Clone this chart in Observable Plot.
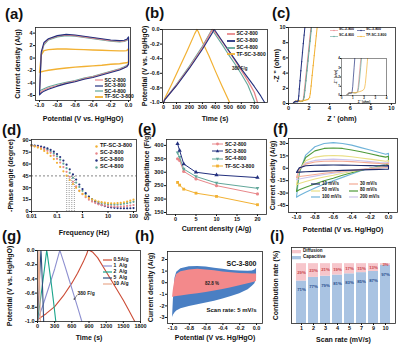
<!DOCTYPE html>
<html>
<head>
<meta charset="utf-8">
<script src="https://cdn.jsdelivr.net/npm/d3@7"></script>
<script src="https://cdn.jsdelivr.net/npm/@observablehq/plot@0.6"></script>
<style>
html,body{margin:0;padding:0;background:#fff;}
#fig{position:relative;width:400px;height:345px;overflow:hidden;background:#fff;font-family:"Liberation Sans",Arial,Helvetica,sans-serif;color:#111;}
.tag{position:absolute;font-weight:bold;font-size:15px;line-height:15px;}
.lg{position:absolute;font-weight:bold;white-space:nowrap;}
.lg svg{vertical-align:middle;overflow:visible;}
.lg span{vertical-align:middle;}
</style>
</head>
<body>
<div id="fig"></div>
<script>
// ---------- shared ----------
const sampleNames = ["SC-2-800", "SC-3-800", "SC-4-800", "TF-SC-3-800"];
const sampleColors = ["#e8878a", "#23307e", "#62a79a", "#f2b133"];
const potTicks = [-1.0, -0.8, -0.6, -0.4, -0.2, 0.0];
const gcdYTicks = [0.0, -0.2, -0.4, -0.6, -0.8, -1.0];

// ---------- (a) CV at 5 mV/s ----------
const aPot   = [-1.0, -0.98, -0.95, -0.9, -0.8, -0.7, -0.6, -0.5, -0.4, -0.3, -0.2, -0.1, -0.05, -0.02, 0.0];
const aUpSC2 = [-5.6, 0.8, 2.3, 3.0, 3.5, 3.7, 3.6, 3.4, 3.2, 3.0, 2.8, 2.7, 2.75, 2.9, 3.2];
const aLoSC2 = [-5.6, -5.4, -5.1, -4.8, -4.4, -4.0, -3.7, -3.3, -3.0, -2.6, -2.2, -1.8, -1.5, -1.3, -0.9];
const aUpSC3 = [-5.9, 1.0, 2.5, 3.1, 3.6, 3.8, 3.7, 3.5, 3.3, 3.1, 2.9, 2.8, 2.85, 3.0, 3.4];
const aLoSC3 = [-5.9, -5.6, -5.3, -5.0, -4.5, -4.1, -3.8, -3.4, -3.1, -2.7, -2.3, -1.9, -1.6, -1.4, -1.0];
const aUpSC4 = [-5.3, 0.6, 2.1, 2.9, 3.4, 3.6, 3.5, 3.3, 3.1, 2.9, 2.7, 2.6, 2.65, 2.8, 3.1];
const aLoSC4 = [-5.3, -5.1, -4.9, -4.6, -4.2, -3.9, -3.6, -3.2, -2.9, -2.5, -2.1, -1.7, -1.4, -1.2, -0.8];
const aUpTF  = [-2.3, 0.5, 1.2, 1.35, 1.45, 1.45, 1.4, 1.35, 1.3, 1.25, 1.2, 1.15, 1.15, 1.2, 1.5];
const aLoTF  = [-2.3, -2.2, -2.1, -1.95, -1.75, -1.6, -1.45, -1.35, -1.25, -1.15, -1.0, -0.9, -0.8, -0.75, -0.6];
const aYTicks = [4, 2, 0, -2, -4, -6];

// ---------- (b) GCD at 1 A/g ----------
const bT_SC2 = [0, 10, 100, 200, 300, 365, 378, 390, 450, 500, 550, 600, 650, 700, 725];
const bV_SC2 = [-1, -0.96, -0.76, -0.52, -0.25, -0.04, 0, -0.02, -0.16, -0.29, -0.42, -0.56, -0.70, -0.86, -1];
const bT_SC3 = [0, 10, 100, 200, 300, 375, 390, 400, 450, 500, 550, 600, 650, 700, 750, 780];
const bV_SC3 = [-1, -0.96, -0.77, -0.53, -0.27, -0.05, 0, -0.02, -0.15, -0.28, -0.41, -0.54, -0.66, -0.78, -0.91, -1];
const bT_SC4 = [0, 10, 100, 200, 300, 360, 372, 385, 450, 500, 550, 600, 650, 705];
const bV_SC4 = [-1, -0.96, -0.75, -0.5, -0.23, -0.04, 0, -0.03, -0.2, -0.34, -0.47, -0.61, -0.76, -1];
const bT_TF  = [0, 8, 60, 120, 180, 240, 258, 268, 300, 350, 400, 450, 510];
const bV_TF  = [-1, -0.95, -0.76, -0.53, -0.30, -0.06, 0, -0.03, -0.17, -0.36, -0.57, -0.77, -1];
const bXTicks = [0, 100, 200, 300, 400, 500, 600, 700];

// ---------- (c) Nyquist ----------
const cX_SC2 = [0.5, 0.6, 0.75, 0.9, 1.05, 1.2, 1.32, 1.42, 1.48, 1.55, 1.65, 1.75, 1.85, 1.95, 2.05, 2.15, 2.25];
const cY_SC2 = [0, 0.15, 0.28, 0.33, 0.32, 0.28, 0.3, 0.45, 0.9, 1.8, 3.1, 4.4, 5.7, 7.0, 8.3, 9.6, 10.9];
const cX_SC3 = [0.45, 0.5, 0.58, 0.66, 0.74, 0.82, 0.9, 0.95, 1.0, 1.05, 1.12, 1.2, 1.28, 1.36, 1.44, 1.52, 1.6, 1.65];
const cY_SC3 = [0, 0.12, 0.22, 0.28, 0.28, 0.24, 0.25, 0.45, 1.0, 1.9, 3.0, 4.3, 5.5, 6.7, 7.9, 9.0, 10.1, 10.8];
const cX_SC4 = [0.5, 0.6, 0.75, 0.9, 1.05, 1.2, 1.35, 1.45, 1.52, 1.6, 1.7, 1.8, 1.9, 2.0, 2.1, 2.2, 2.3];
const cY_SC4 = [0, 0.14, 0.26, 0.31, 0.3, 0.27, 0.29, 0.42, 0.85, 1.7, 3.0, 4.3, 5.6, 6.9, 8.2, 9.5, 10.8];
const cX_TF  = [0.45, 0.55, 0.7, 0.85, 1.0, 1.2, 1.4, 1.6, 1.8, 1.95, 2.05, 2.12, 2.2, 2.3, 2.4, 2.5, 2.6, 2.7, 2.8];
const cY_TF  = [0, 0.2, 0.3, 0.32, 0.3, 0.3, 0.35, 0.42, 0.5, 0.6, 0.8, 1.3, 2.3, 3.7, 5.0, 6.3, 7.6, 8.9, 10.2];
const cTicks = [0, 2, 4, 6, 8, 10];
const cInsetTicks = [0, 1, 2, 3, 4];

// ---------- (d) Bode phase ----------
const dFreq = [0.01, 0.0133, 0.0178, 0.0237, 0.0316, 0.0422, 0.0562, 0.075, 0.1, 0.133, 0.178, 0.237, 0.316, 0.422, 0.562, 0.75, 1, 1.33, 1.78, 2.37, 3.16, 4.22, 5.62, 7.5, 10, 13.3, 17.8, 23.7, 31.6, 42.2, 56.2, 75, 100];
const dTF  = [83.4, 82.3, 80.8, 79.0, 76.6, 73.7, 70.3, 66.2, 61.5, 56.4, 50.8, 45.3, 39.8, 34.6, 29.9, 25.8, 22.3, 19.5, 17.1, 15.2, 13.8, 12.6, 11.8, 11.1, 10.6, 10.4, 10.4, 10.6, 11.0, 11.7, 12.6, 13.7, 15.0];
const dSC2 = [83.1, 82.5, 81.6, 80.4, 78.8, 76.7, 74.1, 70.7, 66.6, 61.8, 56.2, 50.1, 43.9, 37.6, 31.7, 26.4, 21.8, 18.0, 14.9, 12.5, 10.6, 9.1, 8.1, 7.3, 6.7, 6.4, 6.2, 6.2, 6.3, 6.6, 7.0, 7.5, 8.2];
const dSC3 = [83.9, 83.4, 82.9, 82.1, 81.1, 79.7, 77.9, 75.6, 72.6, 68.9, 64.4, 59.2, 53.3, 46.9, 40.4, 34.1, 28.3, 23.2, 18.7, 15.1, 12.2, 9.9, 8.1, 6.8, 5.8, 5.1, 4.6, 4.3, 4.1, 4.0, 4.0, 4.1, 4.3];
const dSC4 = [83.5, 83.0, 82.2, 81.3, 80.0, 78.3, 76.0, 73.2, 69.7, 65.5, 60.4, 54.8, 48.8, 42.6, 36.6, 31.1, 26.1, 22.0, 18.5, 15.7, 13.6, 11.9, 10.6, 9.7, 9.0, 8.7, 8.6, 8.8, 9.2, 9.8, 10.5, 11.3, 12.2];
const dCross = [0.24, 0.3, 0.38, 0.48];
const dXTicks = [0.01, 0.1, 1, 10, 100];
const dYTicks = [0, 15, 30, 45, 60, 75, 90];

// ---------- (e) rate capability ----------
const eRate = [0.5, 1, 2, 5, 10, 20];
const eSC2 = [350, 344, 303, 275, 250, 219];
const eSC3 = [406, 381, 331, 300, 290, 280];
const eSC4 = [372, 356, 312, 284, 260, 240];
const eTF  = [262, 252, 237, 222, 210, 179];
const eXTicks = [0, 5, 10, 15, 20];
const eYTicks = [150, 200, 250, 300, 350, 400];

// ---------- (f) CV of SC-3-800 at scan rates ----------
const fPot   = [-1.0, -0.97, -0.9, -0.8, -0.7, -0.6, -0.5, -0.4, -0.3, -0.2, -0.1, -0.03, 0.0];
const f100Up = [-35, -6, 16, 26, 30, 31, 30, 28, 25, 22, 19, 17, 18];
const f100Lo = [-35, -33, -29, -24, -19, -15, -11, -7, -3, 0, 3, 5, 7];
const f80Up  = [-28, -4, 13, 21, 24, 24.5, 24, 22, 20, 17.5, 15, 13.5, 14.5];
const f80Lo  = [-28, -26, -23, -19, -15, -12, -8.5, -5.5, -2.5, 0, 2, 4, 5.5];
const f50Up  = [-20, -2, 9, 13.5, 15, 15.5, 15, 14, 12.5, 11, 9.5, 8.5, 9.5];
const f50Lo  = [-20, -18.5, -16, -13, -10.5, -8.5, -6, -4, -2, 0, 1.5, 2.5, 3.5];
const f200Up = [-14, -1, 6.5, 9.5, 10.5, 11, 10.5, 10, 9, 8, 7, 6.5, 7];
const f200Lo = [-14, -13, -11.5, -9.5, -7.5, -6, -4.5, -3, -1.5, 0, 1, 2, 2.5];
const f30Up  = [-11, -1, 5, 7.5, 8.5, 8.8, 8.5, 8, 7.2, 6.5, 5.8, 5.3, 6];
const f30Lo  = [-11, -10, -9, -7.5, -6, -4.8, -3.6, -2.5, -1.4, -0.5, 0.4, 1, 1.5];
const f10Up  = [-5, 0.5, 3, 3.6, 3.8, 3.9, 3.8, 3.6, 3.4, 3.2, 3.0, 2.9, 3.2];
const f10Lo  = [-5, -4.7, -4.3, -3.8, -3.4, -3.0, -2.6, -2.3, -2.0, -1.7, -1.4, -1.2, -1.0];
const fYTicks = [30, 15, 0, -15, -30, -45];

// ---------- (g) GCD of SC-3-800 at current densities ----------
const g05T = [0, 8, 150, 300, 450, 600, 700, 800, 860, 880, 910, 960, 1050, 1200, 1350, 1500, 1600, 1700];
const g05V = [-1, -0.97, -0.89, -0.79, -0.64, -0.46, -0.32, -0.16, -0.05, 0, 0, -0.02, -0.10, -0.30, -0.50, -0.70, -0.85, -1];
const g1T  = [0, 6, 100, 200, 300, 375, 390, 400, 480, 560, 640, 720, 775];
const g1V  = [-1, -0.97, -0.76, -0.51, -0.26, -0.04, 0, -0.02, -0.22, -0.43, -0.64, -0.85, -1];
const g2T  = [0, 4, 40, 80, 120, 160, 168, 200, 240, 280, 320];
const g2V  = [-1, -0.96, -0.76, -0.52, -0.27, 0, -0.03, -0.22, -0.46, -0.72, -1];
const g5T  = [0, 2, 30, 60, 64, 85, 108];
const g5V  = [-1, -0.95, -0.48, 0, -0.04, -0.45, -1];
const g10T = [0, 1, 12, 25, 27, 38, 50];
const g10V = [-1, -0.94, -0.5, 0, -0.05, -0.5, -1];
const gXTicks = [0, 300, 600, 900, 1200, 1500, 1800];
const gNote = [{x: 700, y: -0.6, text: "380 F/g"}];
const gArrow = [{x1: 690, y1: -0.63, x2: 640, y2: -0.69}];

// ---------- (h) capacitive contribution at 5 mV/s ----------
const hPot   = [-1.0, -0.99, -0.97, -0.95, -0.9, -0.8, -0.7, -0.6, -0.5, -0.4, -0.3, -0.2, -0.1, -0.05, -0.02, 0.0];
const hTotUp = [-3.0, -1.5, 0.4, 0.9, 1.2, 1.38, 1.4, 1.35, 1.25, 1.15, 1.05, 1.0, 0.98, 1.0, 1.1, 1.25];
const hTotLo = [-3.0, -2.8, -2.6, -2.45, -2.25, -2.05, -1.9, -1.75, -1.6, -1.4, -1.2, -0.95, -0.6, -0.3, -0.1, 0.3];
const hCapUp = [-1.25, -0.6, 0.3, 0.7, 0.95, 1.1, 1.15, 1.1, 1.02, 0.93, 0.85, 0.8, 0.77, 0.76, 0.76, 0.76];
const hCapLo = [-1.25, -1.25, -1.22, -1.2, -1.15, -1.05, -0.95, -0.85, -0.72, -0.58, -0.43, -0.27, -0.1, 0.0, 0.05, 0.1];
const hYTicks = [2, 1, 0, -1, -2, -3];

// ---------- (i) contribution ratios ----------
const iRate = ["1", "2", "3", "4", "5", "7", "9", "10"];
const iCap  = [71, 77, 79, 81, 83, 85, 87, 97];
const iDif  = [29, 23, 21, 19, 17, 15, 13, 3];

// ---------- helpers ----------
const FONT = '"Liberation Sans", Arial, Helvetica, sans-serif';
const fig = document.getElementById("fig");
const f1 = d => d.toFixed(1);
const f0 = d => String(d);

function mk(fr, m, opts) {
  const [mt, mr, mb, ml] = m;
  const p = Plot.plot({
    width: fr.r - fr.l + ml + mr,
    height: fr.b - fr.t + mt + mb,
    marginTop: mt, marginRight: mr, marginBottom: mb, marginLeft: ml,
    style: {fontFamily: FONT, fontSize: "5.5px", fontWeight: "bold", background: "transparent", color: "#111", overflow: "visible"},
    ...opts
  });
  p.style.position = "absolute";
  p.style.left = (fr.l - ml) + "px";
  p.style.top = (fr.t - mt) + "px";
  fig.appendChild(p);
  return p;
}
function axes(o) {
  const tfs = o.tfs ?? 5.5, lfs = o.lfs ?? 7, ts = o.ts ?? 2;
  return [
    Plot.axisX({ticks: o.xt, tickFormat: o.xf, tickSize: ts, tickPadding: o.tp ?? 1, label: null, fontSize: tfs}),
    Plot.axisY({ticks: o.yt, tickFormat: o.yf, tickSize: ts, tickPadding: o.tp ?? 1, label: null, fontSize: tfs}),
    Plot.axisX({ticks: [], label: o.xl, labelAnchor: "center", labelOffset: o.xo, labelArrow: "none", fontSize: lfs}),
    Plot.axisY({ticks: [], label: o.yl, labelAnchor: "center", labelOffset: o.yo, labelArrow: "none", fontSize: lfs}),
    Plot.frame({stroke: "#222", strokeWidth: o.fw ?? 0.8})
  ];
}
function loop(xs, up, lo) {
  const pts = xs.map((x, i) => ({x, y: up[i]}));
  for (let i = xs.length - 1; i >= 0; i--) pts.push({x: xs[i], y: lo[i]});
  return pts;
}
const pairs = (xs, ys) => xs.map((x, i) => ({x, y: ys[i]}));

function swatch(color, o = {}) {
  const w = o.w ?? 8, h = o.h ?? 4, lw = o.lw ?? 1.2, ms = o.ms ?? 1.5, cx = w / 2, cy = h / 2;
  let s = `<svg width="${w}" height="${h}">`;
  if (o.line !== false) s += `<line x1="0" y1="${cy}" x2="${w}" y2="${cy}" stroke="${color}" stroke-width="${lw}"/>`;
  if (o.mk === "circle") s += `<circle cx="${cx}" cy="${cy}" r="${ms}" fill="${color}"/>`;
  else if (o.mk === "square") s += `<rect x="${cx - ms}" y="${cy - ms}" width="${2 * ms}" height="${2 * ms}" fill="${color}"/>`;
  else if (o.mk === "tri") s += `<path d="M${cx},${cy - 1.3 * ms}L${cx + 1.2 * ms},${cy + 0.9 * ms}L${cx - 1.2 * ms},${cy + 0.9 * ms}Z" fill="${color}"/>`;
  else if (o.mk === "tridown") s += `<path d="M${cx},${cy + 1.3 * ms}L${cx + 1.2 * ms},${cy - 0.9 * ms}L${cx - 1.2 * ms},${cy - 0.9 * ms}Z" fill="${color}"/>`;
  else if (o.mk === "rect") s += `<rect x="0" y="0" width="${w}" height="${h}" fill="${color}"/>`;
  return s + "</svg>";
}
function legendRow(x, y, sw, label, fs, gap = 1.5) {
  const d = document.createElement("div");
  d.className = "lg";
  d.style.left = x + "px";
  d.style.top = (y - fs / 2) + "px";
  d.style.fontSize = fs + "px";
  d.style.lineHeight = fs + "px";
  d.innerHTML = sw + `<span style="margin-left:${gap}px">${label}</span>`;
  fig.appendChild(d);
}
function tag(t, x, y) {
  const d = document.createElement("div");
  d.className = "tag"; d.textContent = t;
  d.style.left = x + "px"; d.style.top = y + "px";
  fig.appendChild(d);
}
const [C2, C3, C4, CT] = sampleColors;

// ---------- (a) ----------
mk({l: 35, t: 27, r: 130, b: 100}, [8, 6, 24, 35], {
  x: {domain: [-1.045, 0.022]}, y: {domain: [-6.8, 4.9]},
  marks: [
    Plot.line(loop(aPot, aUpTF, aLoTF), {x: "x", y: "y", stroke: CT, strokeWidth: 1.4}),
    Plot.line(loop(aPot, aUpSC4, aLoSC4), {x: "x", y: "y", stroke: C4, strokeWidth: 1.1}),
    Plot.line(loop(aPot, aUpSC2, aLoSC2), {x: "x", y: "y", stroke: C2, strokeWidth: 1.1}),
    Plot.line(loop(aPot, aUpSC3, aLoSC3), {x: "x", y: "y", stroke: C3, strokeWidth: 1.1}),
    ...axes({xt: potTicks, xf: f1, yt: aYTicks, yf: f0, xl: "Potential (V vs. Hg/HgO)", yl: "Current density (A/g)", xo: 20, yo: 20.5})
  ]
});
[80, 85.5, 91, 96.5].forEach((y, i) => legendRow(95, y, swatch(sampleColors[i], {w: 8, lw: i === 3 ? 1.8 : 1.2}), sampleNames[i], 5));

// ---------- (b) ----------
mk({l: 162, t: 29, r: 267, b: 102}, [6, 4, 22, 26], {
  x: {domain: [-8, 802]}, y: {domain: [-1, 0]},
  marks: [
    Plot.line(pairs(bT_TF, bV_TF), {x: "x", y: "y", stroke: CT, strokeWidth: 1.2}),
    Plot.line(pairs(bT_SC4, bV_SC4), {x: "x", y: "y", stroke: C4, strokeWidth: 1.1}),
    Plot.line(pairs(bT_SC2, bV_SC2), {x: "x", y: "y", stroke: C2, strokeWidth: 1.3}),
    Plot.line(pairs(bT_SC3, bV_SC3), {x: "x", y: "y", stroke: C3, strokeWidth: 1.1}),
    Plot.text(["380 F/g"], {frameAnchor: "right", dx: -20, dy: 3, fontSize: 4.5, fontWeight: "bold", fill: "#222"}),
    ...axes({xt: bXTicks, xf: f0, yt: gcdYTicks, yf: f1, xl: "Time (s)", yl: "Potential (V vs. Hg/HgO)", xo: 18, yo: 20.5})
  ]
});
[33.5, 40.5, 47.5, 54].forEach((y, i) => legendRow(227, y, swatch(sampleColors[i], {w: 8, lw: 1.8}), sampleNames[i], 5));

// ---------- (c) ----------
const cSets = [[cX_SC2, cY_SC2, C2], [cX_SC4, cY_SC4, C4], [cX_TF, cY_TF, CT], [cX_SC3, cY_SC3, C3]];
mk({l: 288, t: 27, r: 395, b: 103}, [6, 5, 20, 17], {
  x: {domain: [0, 10.4]}, y: {domain: [0, 10]},
  marks: [
    ...cSets.flatMap(([xs, ys, c]) => [
      Plot.line(pairs(xs, ys), {x: "x", y: "y", stroke: c, strokeWidth: 1, clip: true}),
      Plot.dot(pairs(xs, ys), {x: "x", y: "y", fill: c, r: 0.7, clip: true})
    ]),
    ...axes({xt: cTicks, xf: f0, yt: cTicks, yf: f0, xl: "Z ' (ohm)", yl: "-Z '' (ohm)", xo: 17, yo: 14.5})
  ]
});
mk({l: 341, t: 58, r: 386, b: 95}, [1, 1, 9, 8], {
  x: {domain: [0, 4]}, y: {domain: [0, 4]},
  marks: [
    ...cSets.map(([xs, ys, c]) => Plot.line(pairs(xs, ys), {x: "x", y: "y", stroke: c, strokeWidth: 0.7, clip: true})),
    ...axes({xt: cInsetTicks, xf: f0, yt: cInsetTicks, yf: f0, xl: "Z ' (ohm)", yl: "-Z '' (ohm)", xo: 7, yo: 7, tfs: 3, lfs: 3, ts: 1, tp: 0.5, fw: 0.5})
  ]
});
legendRow(330, 30, swatch(C2, {w: 8, h: 3, lw: 0.6, mk: "circle", ms: 0.7}), "SC-2-800", 3.5, 1);
legendRow(357, 30, swatch(C3, {w: 8, h: 3, lw: 0.6, mk: "circle", ms: 0.7}), "SC-3-800", 3.5, 1);
legendRow(330, 36, swatch(C4, {w: 8, h: 3, lw: 0.6, mk: "circle", ms: 0.7}), "SC-4-800", 3.5, 1);
legendRow(357, 36, swatch(CT, {w: 8, h: 3, lw: 0.6, mk: "circle", ms: 0.7}), "TF-SC-3-800", 3.5, 1);

// ---------- (d) ----------
const dSets = [[dSC4, C4], [dSC3, C3], [dSC2, C2], [dTF, CT]];
mk({l: 31, t: 139, r: 136, b: 211}, [6, 4, 26, 31], {
  x: {type: "log", domain: [0.01, 131]}, y: {domain: [0, 91]},
  marks: [
    Plot.ruleY([45], {stroke: "#333", strokeWidth: 0.6, strokeDasharray: "2,2"}),
    Plot.ruleX(dCross, {x: d => d, y1: 0, y2: 45, stroke: "#333", strokeWidth: 0.6, strokeDasharray: "0.8,1.2"}),
    ...dSets.map(([vals, c]) => Plot.dot(pairs(dFreq, vals), {x: "x", y: "y", fill: c, r: 1.1})),
    ...axes({xt: dXTicks, xf: f0, yt: dYTicks, yf: f0, xl: "Frequency (Hz)", yl: "-Phase angle (degree)", xo: 23, yo: 23.5})
  ]
});
[[CT, "TF-SC-3-800"], [C2, "SC-2-800"], [C3, "SC-3-800"], [C4, "SC-4-800"]].forEach(([c, n], i) =>
  legendRow(95, 146 + i * 7, swatch(c, {line: false, w: 3, h: 3, mk: "circle", ms: 1.2}), n, 5.5, 2));

// ---------- (e) ----------
const triDown = {draw(ctx, size) { const r = Math.sqrt(size / 3); ctx.moveTo(0, r * 1.2); ctx.lineTo(r * 1.1, -r * 0.8); ctx.lineTo(-r * 1.1, -r * 0.8); ctx.closePath(); }};
const eSets = [[eTF, CT, "square"], [eSC2, C2, "circle"], [eSC4, C4, triDown], [eSC3, C3, "triangle"]];
mk({l: 166, t: 139, r: 266, b: 214}, [6, 4, 20, 25], {
  x: {domain: [-2.2, 22.2]}, y: {domain: [142.5, 422]},
  marks: [
    ...eSets.flatMap(([vals, c, sym]) => [
      Plot.line(pairs(eRate, vals), {x: "x", y: "y", stroke: c, strokeWidth: 1}),
      Plot.dot(pairs(eRate, vals), {x: "x", y: "y", fill: c, symbol: sym, r: 1.6})
    ]),
    ...axes({xt: eXTicks, xf: f0, yt: eYTicks, yf: f0, xl: "Current density (A/g)", yl: "Specific Capacitance (F/g)", xo: 16, yo: 22.5})
  ]
});
[[C2, "SC-2-800", "circle"], [C3, "SC-3-800", "tri"], [C4, "SC-4-800", "tridown"], [CT, "TF-SC-3-800", "square"]].forEach(([c, n, m], i) =>
  legendRow(212, 144 + i * 7.3, swatch(c, {w: 11, lw: 1, mk: m, ms: 1.4}), n, 5, 2));

// ---------- (f) ----------
const fSets = [[f100Up, f100Lo, "#6fb3d9"], [f80Up, f80Lo, "#4f9a3a"], [f50Up, f50Lo, "#eadf86"], [f200Up, f200Lo, "#cdc3ec"], [f30Up, f30Lo, "#f4ab95"], [f10Up, f10Lo, "#1b2a6b"]];
mk({l: 288, t: 138, r: 397, b: 212}, [6, 3, 22, 22], {
  x: {domain: [-1.087, 0.098]}, y: {domain: [-53.5, 36]},
  marks: [
    ...fSets.map(([up, lo, c]) => Plot.line(loop(fPot, up, lo), {x: "x", y: "y", stroke: c, strokeWidth: 1.1})),
    ...axes({xt: potTicks, xf: f1, yt: fYTicks, yf: f0, xl: "Potential (V vs. Hg/HgO)", yl: "Current density (A/g)", xo: 19, yo: 18.5})
  ]
});
[["#1b2a6b", "10 mV/s"], ["#f4ab95", "30 mV/s"], ["#eadf86", "50 mV/s"], ["#4f9a3a", "80 mV/s"], ["#6fb3d9", "100 mV/s"], ["#cdc3ec", "200 mV/s"]].forEach(([c, n], i) =>
  legendRow(i % 2 === 0 ? 311 : 349, 184 + Math.floor(i / 2) * 6.5, swatch(c, {w: 9, lw: 1.2}), n, 4.5, 2));

// ---------- (g) ----------
const gSets = [[g05T, g05V, "#cc4b35"], [g1T, g1V, "#8d8fd0"], [g2T, g2V, "#1ca58c"], [g5T, g5V, "#2f4d7e"], [g10T, g10V, "#e9ab8e"]];
mk({l: 37, t: 250, r: 140, b: 321}, [6, 4, 22, 33], {
  x: {domain: [0, 1800]}, y: {domain: [-1, 0]},
  marks: [
    ...gSets.map(([ts, vs, c]) => Plot.line(pairs(ts, vs), {x: "x", y: "y", stroke: c, strokeWidth: 1.1})),
    Plot.arrow(gArrow, {x1: "x1", y1: "y1", x2: "x2", y2: "y2", stroke: "#333", strokeWidth: 0.6, headLength: 3}),
    Plot.text(gNote, {x: "x", y: "y", text: "text", textAnchor: "start", fontSize: 5, fontWeight: "bold", fill: "#222"}),
    ...axes({xt: gXTicks, xf: f0, yt: gcdYTicks, yf: f1, xl: "Time (s)", yl: "Potential (V vs. Hg/HgO)", xo: 18, yo: 30.5})
  ]
});
[["#cc4b35", "0.5A/g"], ["#8d8fd0", "1  A/g"], ["#1ca58c", "2  A/g"], ["#2f4d7e", "5  A/g"], ["#e9ab8e", "10 A/g"]].forEach(([c, n], i) =>
  legendRow(103, 259.5 + i * 6, swatch(c, {w: 9, lw: 1.2}), n.replace(/ /g, "\u00a0"), 5, 1.5));

// ---------- (h) ----------
const hRows = hPot.map((p, i) => ({p, tu: hTotUp[i], tl: hTotLo[i], cu: hCapUp[i], cl: hCapLo[i]}));
mk({l: 167, t: 251, r: 262, b: 323}, [6, 4, 20, 22], {
  x: {domain: [-1.06, 0.071]}, y: {domain: [-3.52, 2.69]},
  marks: [
    Plot.areaY(hRows, {x: "p", y1: "tl", y2: "tu", fill: "#4a7fc3"}),
    Plot.areaY(hRows, {x: "p", y1: "cl", y2: "cu", fill: "#f3898b"}),
    Plot.text(["82.8 %"], {frameAnchor: "middle", dx: -3, dy: -3.5, fontSize: 4.5, fontWeight: "bold", fill: "#222"}),
    Plot.text(["SC-3-800"], {frameAnchor: "top-right", textAnchor: "end", dx: -6, dy: 10, fontSize: 7, fontWeight: "bold", fill: "#111"}),
    Plot.text(["Scan rate: 5 mV/s"], {frameAnchor: "bottom-right", textAnchor: "end", dx: -6, dy: -12, fontSize: 6, fontWeight: "bold", fill: "#111"}),
    ...axes({xt: potTicks, xf: f1, yt: hYTicks, yf: f0, xl: "Potential (V vs. Hg/HgO)", yl: "Current density (A/g)", xo: 16, yo: 19})
  ]
});

// ---------- (i) ----------
const iRows = iRate.map((r, i) => ({r, cap: iCap[i], dif: iDif[i]}));
mk({l: 291, t: 247, r: 395, b: 323}, [4, 4, 20, 22], {
  x: {domain: iRate, padding: 0.16}, y: {domain: [0, 127]},
  marks: [
    Plot.barY(iRows, {x: "r", y1: 0, y2: "cap", fill: "#a9c3e2"}),
    Plot.barY(iRows, {x: "r", y1: "cap", y2: 100, fill: "#f7c6cb"}),
    Plot.text(iRows, {x: "r", y: d => (d.cap + 100) / 2, text: d => d.dif + "%", fill: "#c8474a", fontSize: 4.3, fontWeight: "bold"}),
    Plot.text(iRows, {x: "r", y: d => d.cap - 15, text: d => d.cap + "%", fill: "#2b4f8e", fontSize: 4.3, fontWeight: "bold"}),
    ...axes({xt: iRate, yt: [], xl: "Scan rate (mV/s)", yl: "Contribution rate (%)", xo: 18, yo: 18.5})
  ]
});
legendRow(292, 251.7, swatch("#f7c6cb", {mk: "rect", line: false, w: 9, h: 3.3}), "Diffusion", 4.5, 2);
legendRow(292, 257.7, swatch("#a9c3e2", {mk: "rect", line: false, w: 9, h: 3.3}), "Capacitive", 4.5, 2);

// ---------- panel tags ----------
tag("(a)", 5, 6); tag("(b)", 145, 5); tag("(c)", 272, 5);
tag("(d)", 2, 122); tag("(e)", 138, 121); tag("(f)", 273, 121);
tag("(g)", 2, 228); tag("(h)", 135, 228); tag("(i)", 270, 228);
</script>
</body>
</html>
